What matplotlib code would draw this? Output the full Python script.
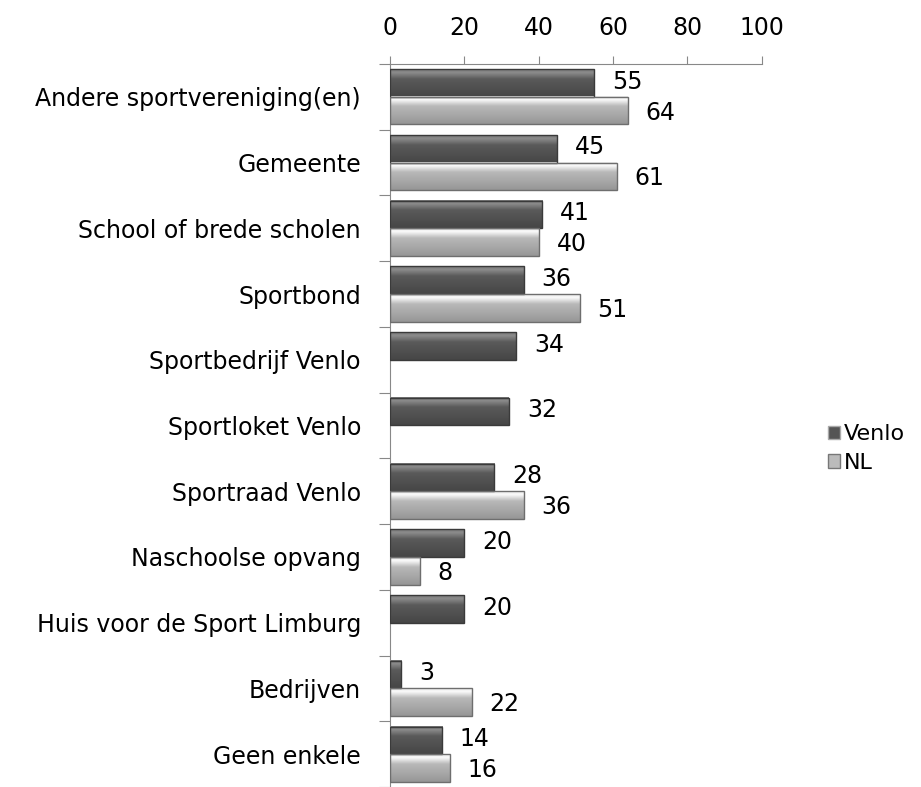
import matplotlib
matplotlib.use("Agg")
import matplotlib.pyplot as plt
import numpy as np
from matplotlib.patches import Rectangle, Patch

categories = ["Andere sportvereniging(en)", "Gemeente", "School of brede scholen",
              "Sportbond", "Sportbedrijf Venlo", "Sportloket Venlo", "Sportraad Venlo",
              "Naschoolse opvang", "Huis voor de Sport Limburg", "Bedrijven", "Geen enkele"]
venlo = [55, 45, 41, 36, 34, 32, 28, 20, 20, 3, 14]
nl = [64, 61, 40, 51, None, None, 36, 8, None, 22, 16]
xticks = [0, 20, 40, 60, 80, 100]

plt.rcParams['font.family'] = ['DejaVu Sans']
FS = 17
fig = plt.figure(figsize=(9.21, 7.87), dpi=100)
ax = fig.add_axes([0.4235, 0.0, 0.4035, 0.9187])

def grad(c_top, c_hi, c_mid, c_bot):
    pts = np.array([0, 0.12, 0.35, 1.0])
    cols = np.array([c_top, c_hi, c_mid, c_bot], dtype=float) / 255.0
    t = np.linspace(0, 1, 40)
    arr = np.stack([np.interp(t, pts, cols[:, k]) for k in range(3)], axis=-1)
    return arr[:, None, :]

dark_grad = grad((120, 120, 120), (140, 140, 140), (90, 90, 90), (70, 70, 70))
light_grad = grad((235, 235, 235), (250, 250, 250), (185, 185, 185), (150, 150, 150))

h = 0.42
def draw_bar(y_center, v, g, edge):
    y0 = y_center - h / 2
    y1 = y_center + h / 2
    ax.imshow(g, extent=(0, v, y1, y0), aspect='auto', interpolation='bilinear', zorder=2)
    ax.add_patch(Rectangle((0, y0), v, h, fill=False, edgecolor=edge, lw=1.0, zorder=3))

for i, cat in enumerate(categories):
    v = venlo[i]
    draw_bar(i - h / 2, v, dark_grad, '#3a3a3a')
    ax.text(v + 4.8, i - h / 2 - 0.02, str(v), va='center', ha='left', fontsize=FS, color='black')
    n = nl[i]
    if n is not None:
        draw_bar(i + h / 2, n, light_grad, '#6e6e6e')
        ax.text(n + 4.8, i + h / 2 + 0.03, str(n), va='center', ha='left', fontsize=FS, color='black')

ax.set_xlim(0, 100)
ax.set_ylim(len(categories) - 0.5, -0.5)
ax.xaxis.tick_top()
ax.set_xticks(xticks)
ax.set_xticklabels([str(x) for x in xticks], fontsize=FS)
ax.tick_params(axis='x', direction='out', length=6, color='#888888', pad=11)
ax.set_yticks(np.arange(-0.5, len(categories), 1.0))
ax.set_yticklabels([])
ax.tick_params(axis='y', which='major', direction='out', length=8, color='#888888')
ax.set_yticks(np.arange(len(categories)), minor=True)
ax.set_yticklabels(categories, minor=True, fontsize=FS)
ax.tick_params(axis='y', which='minor', length=0, pad=21)
for s in ['right', 'bottom']:
    ax.spines[s].set_visible(False)
for s in ['left', 'top']:
    ax.spines[s].set_color('#888888')

handles = [Patch(facecolor='#555555', edgecolor='#aaaaaa', label='Venlo'),
           Patch(facecolor='#bbbbbb', edgecolor='#777777', label='NL')]
fig.legend(handles=handles, loc='center left', bbox_to_anchor=(0.889, 0.43), frameon=False,
           fontsize=FS - 1, handlelength=0.55, handleheight=0.55, handletextpad=0.2, labelspacing=0.4,
           borderaxespad=0)

fig.savefig("out.png", dpi=100)
